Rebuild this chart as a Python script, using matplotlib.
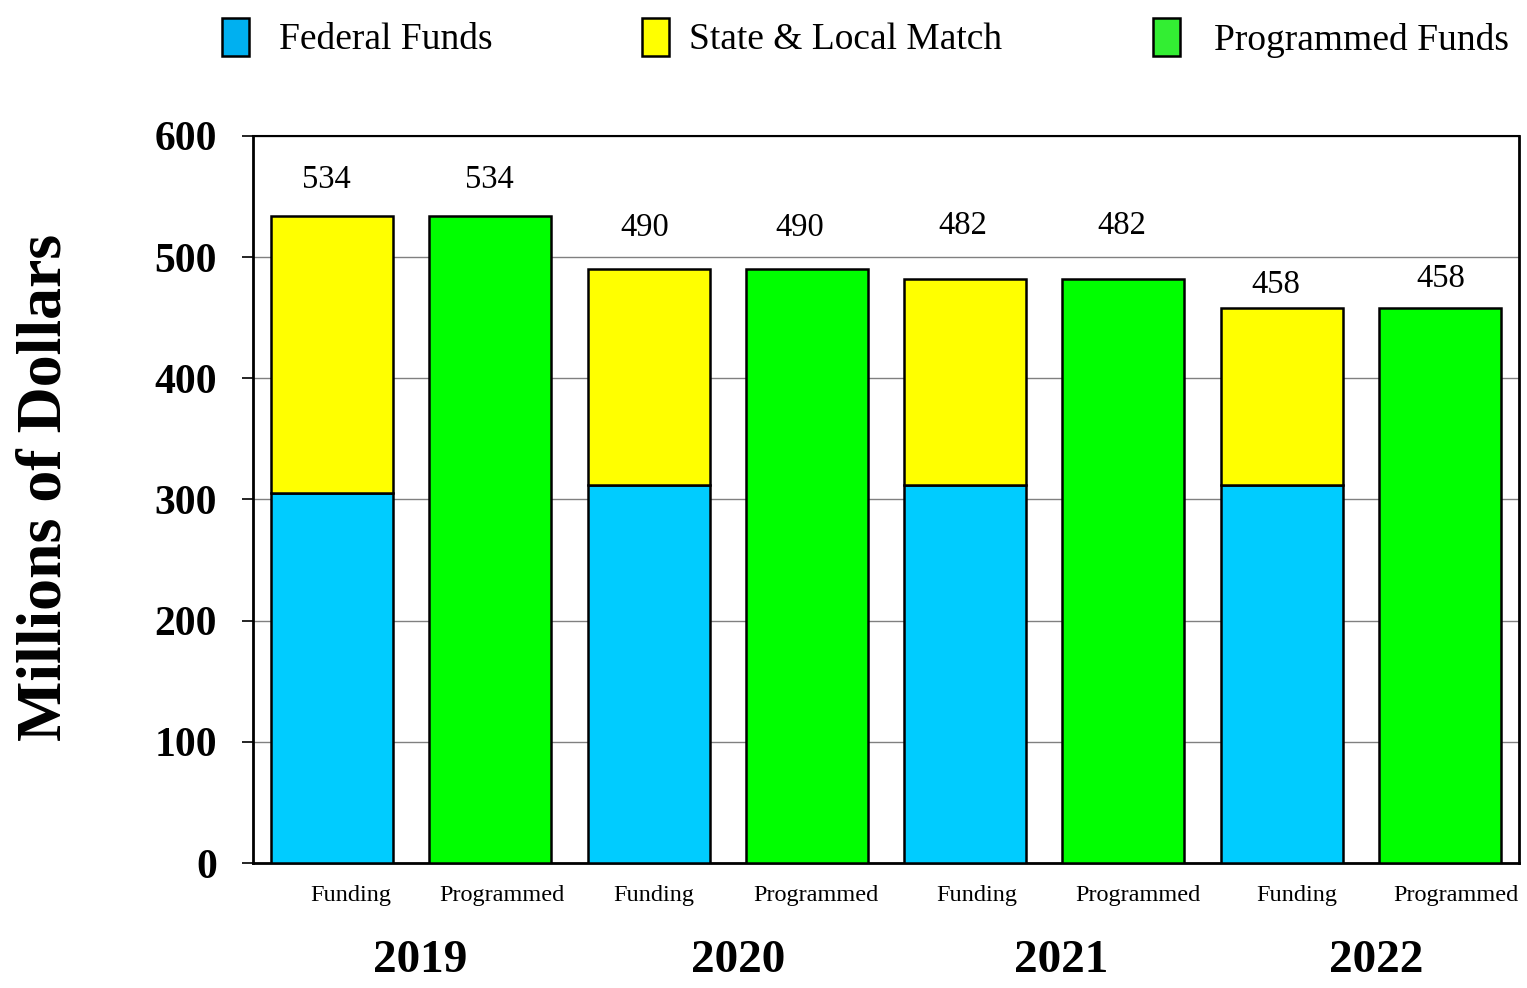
import matplotlib
matplotlib.use("Agg")
import matplotlib.pyplot as plt
from matplotlib.patches import Rectangle
import numpy as np

years = ["2019", "2020", "2021", "2022"]
bar_labels = ["Funding", "Programmed"] * 4
federal = [305, 312, 312, 312]
totals = [534, 490, 482, 458]
state_local = [t - f for t, f in zip(totals, federal)]
programmed = [534, 490, 482, 458]
yticks = [0, 100, 200, 300, 400, 500, 600]

legend_names = ["Federal Funds", "State & Local Match", "Programmed Funds"]

c_fed = "#00CCFF"
c_state = "#FFFF00"
c_prog = "#00FF00"
leg_colors = ["#00B0F0", "#FFFF00", "#33EE33"]

serif = ["Liberation Serif", "DejaVu Serif"]
plt.rcParams["font.family"] = serif

fig = plt.figure(figsize=(15.27, 9.88), dpi=100)
ax = fig.add_axes([253/1527, 1-863/988, (1519-253)/1527, (863-136)/988])

n = len(years)
fund_x = np.arange(n) * 2
prog_x = fund_x + 1
w = 122/158

ax.bar(fund_x, federal, width=w, color=c_fed, edgecolor="black", linewidth=1.8, zorder=3)
ax.bar(fund_x, state_local, bottom=federal, width=w, color=c_state, edgecolor="black", linewidth=1.8, zorder=3)
ax.bar(prog_x, programmed, width=w, color=c_prog, edgecolor="black", linewidth=1.8, zorder=3)

# value labels (offsets in points, matching reference placement)
fund_off = [(-4, 26), (-3, 30), (-2, 38), (-4, 17)]
prog_off = [(-1, 26), (-5, 30), (-1, 38), (1, 21)]
for i in range(n):
    ax.annotate(str(totals[i]), (fund_x[i], totals[i]), xytext=fund_off[i], textcoords="offset points",
                ha="center", va="center", fontsize=23.5)
    ax.annotate(str(programmed[i]), (prog_x[i], programmed[i]), xytext=prog_off[i], textcoords="offset points",
                ha="center", va="center", fontsize=23.5)

ax.set_xlim(-0.5, 2*n - 0.5)
ax.set_ylim(0, 600)
ax.set_yticks(yticks)
ax.set_yticklabels([str(t) for t in yticks], fontsize=30, fontweight="bold")
ax.tick_params(axis="y", direction="out", length=8, width=1.2, pad=18)
ax.yaxis.grid(True, color="#808080", linewidth=1.0, zorder=0)
ax.set_axisbelow(True)

ax.set_xticks([])
all_x = np.arange(2*n)
offs = [0.12, 0.07, 0.03, 0.057, 0.076, 0.089, 0.095, 0.10]
for x, lab, o in zip(all_x, bar_labels, offs):
    ax.text(x + o, -27, lab, ha="center", va="center", fontsize=17.5, clip_on=False)
yr_offs = [0.057, 0.063, 0.108, 0.095]
for i, yr in enumerate(years):
    ax.text(fund_x[i] + 0.5 + yr_offs[i], -81, yr, ha="center", va="center", fontsize=34, fontweight="bold", clip_on=False)

for s in ["left", "right"]:
    ax.spines[s].set_linewidth(2.0)
ax.spines["bottom"].set_linewidth(2.0)
ax.spines["top"].set_linewidth(1.5)

fig.text(46/1527, 1-487/988, "Millions of Dollars", rotation=90, ha="center", va="center",
         fontsize=46, fontweight="bold")

# legend
leg_patch_x = [222, 642, 1153]
leg_text_x = [279, 689, 1214]
for px, tx, name, col in zip(leg_patch_x, leg_text_x, legend_names, leg_colors):
    fig.patches.append(Rectangle((px/1527, 1-56/988), 27/1527, 38/988, transform=fig.transFigure,
                                 facecolor=col, edgecolor="black", linewidth=1.8))
    fig.text(tx/1527, 1-40/988, name, ha="left", va="center", fontsize=27)

fig.savefig("out.png", dpi=100)
